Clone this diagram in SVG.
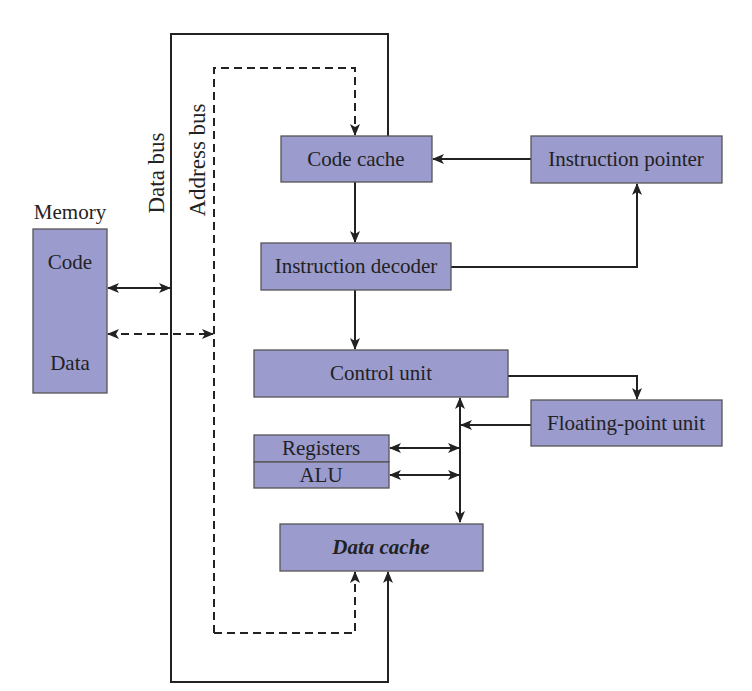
<svg xmlns="http://www.w3.org/2000/svg" width="752" height="691" viewBox="0 0 752 691">
<defs>
<marker id="ah" viewBox="0 0 12 10" refX="11" refY="5" markerWidth="12" markerHeight="10" markerUnits="userSpaceOnUse" orient="auto-start-reverse">
<path d="M0,0 L12,5 L0,10 L3,5 Z" fill="#222"/>
</marker>
</defs>
<style>
.box{fill:#9b9bce;stroke:#555;stroke-width:1.3}
.t{font-family:"Liberation Serif",serif;font-size:21px;fill:#222;text-anchor:middle}
.b{font-size:23px}
.w{fill:none;stroke:#222;stroke-width:2}
.d{fill:none;stroke:#222;stroke-width:2;stroke-dasharray:8,5}
</style>
<rect width="752" height="691" fill="#fff"/>
<g id="connectors">
<path class="w" d="M388,136 V34 H171 V682 H388 V572" marker-end="url(#ah)"/>
<path class="d" d="M214,633 V68 H355 V135" marker-end="url(#ah)"/>
<path class="d" d="M214,633 H355 V572" marker-end="url(#ah)"/>
<path class="w" d="M108,288 H170" marker-start="url(#ah)" marker-end="url(#ah)"/>
<path class="d" d="M108,334 H213" marker-start="url(#ah)" marker-end="url(#ah)"/>
<path class="w" d="M531,159 H433" marker-end="url(#ah)"/>
<path class="w" d="M355,182 V242" marker-end="url(#ah)"/>
<path class="w" d="M355,290 V349" marker-end="url(#ah)"/>
<path class="w" d="M451,267 H637 V184" marker-end="url(#ah)"/>
<path class="w" d="M508,376 H637 V399" marker-end="url(#ah)"/>
<path class="w" d="M531,425 H461" marker-end="url(#ah)"/>
<path class="w" d="M460,398 V522" marker-start="url(#ah)" marker-end="url(#ah)"/>
<path class="w" d="M390,448 H459" marker-start="url(#ah)" marker-end="url(#ah)"/>
<path class="w" d="M390,475 H459" marker-start="url(#ah)" marker-end="url(#ah)"/>
</g>
<g id="labels">
<text class="t b" transform="translate(164,173) rotate(-90)">Data bus</text>
<text class="t b" transform="translate(205,160) rotate(-90)">Address bus</text>
<text class="t" x="70" y="219">Memory</text>
</g>
<g id="memory">
<rect class="box" x="33" y="229" width="74" height="164"/>
<text class="t" x="70" y="269">Code</text>
<text class="t" x="70" y="370">Data</text>
</g>
<g id="code-cache">
<rect class="box" x="281" y="136" width="151" height="46"/>
<text class="t" x="356" y="166">Code cache</text>
</g>
<g id="instruction-pointer">
<rect class="box" x="531" y="136" width="191" height="47"/>
<text class="t" x="626" y="166">Instruction pointer</text>
</g>
<g id="instruction-decoder">
<rect class="box" x="261" y="243" width="190" height="47"/>
<text class="t" x="356" y="273">Instruction decoder</text>
</g>
<g id="control-unit">
<rect class="box" x="254" y="350" width="254" height="47"/>
<text class="t" x="381" y="380">Control unit</text>
</g>
<g id="floating-point-unit">
<rect class="box" x="531" y="400" width="191" height="46"/>
<text class="t" x="626" y="430">Floating-point unit</text>
</g>
<g id="registers">
<rect class="box" x="254" y="435" width="135" height="27"/>
<text class="t" x="321" y="455">Registers</text>
</g>
<g id="alu">
<rect class="box" x="254" y="462" width="135" height="26"/>
<text class="t" x="321" y="482">ALU</text>
</g>
<g id="data-cache">
<rect class="box" x="280" y="524" width="203" height="47"/>
<text class="t" x="381" y="554" font-weight="bold" font-style="italic">Data cache</text>
</g>
</svg>
